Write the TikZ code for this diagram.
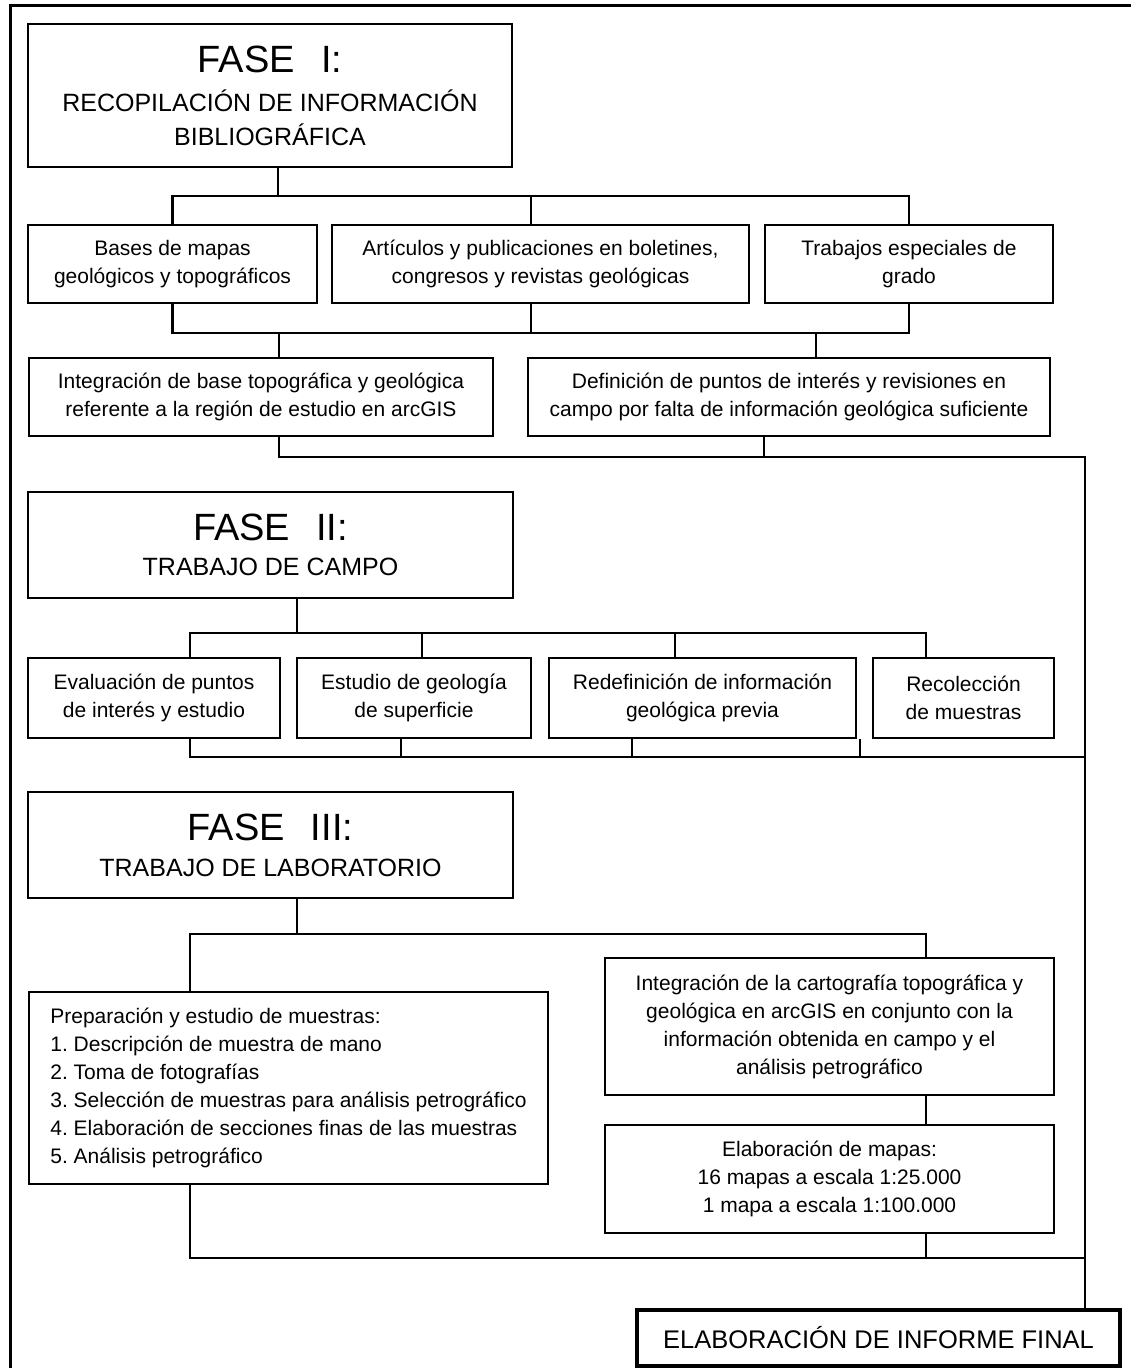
\documentclass[tikz,border=0pt]{standalone}
\usepackage{fontspec}
\setmainfont{Liberation Sans}
\frenchspacing

\newcommand\fasetitle[1]{{\fontsize{19}{19}\selectfont FASE\hspace{13pt}#1:}}

\begin{document}
\begin{tikzpicture}[
  x=0.5pt, y=-0.5pt,
  box/.style={
    draw,
    line width=1.4pt,
    inner sep=0pt,
    align=center,
    font=\fontsize{10.5}{14}\selectfont
  },
  phase/.style={box, minimum width=242.5pt, font=\fontsize{12.5}{16.5}\selectfont},
  link/.style={draw, line width=1.1pt},
  frame/.style={line width=1.5pt}
]
  \useasboundingbox (0,0) rectangle (1131,1368);
  \draw[frame] (10,1368) -- (10,6) -- (1131,6);

  % Phase I and its sources
  \node[phase, minimum width=242pt, minimum height=71.5pt] (F1) at (270,95.5)
    {\fasetitle{I}\\[3pt]RECOPILACIÓN DE INFORMACIÓN\\[0.5pt]BIBLIOGRÁFICA};

  \node[box, minimum width=144.5pt, minimum height=39pt] (A) at (172.5,264)
    {Bases de mapas\\geológicos y topográficos};
  \node[box, minimum width=208.5pt, minimum height=39pt] (B) at (540.5,264)
    {Artículos y publicaciones en boletines,\\congresos y revistas geológicas};
  \node[box, minimum width=144pt, minimum height=39pt] (C) at (909,264)
    {Trabajos especiales de\\grado};

  \node[box, minimum width=232pt, minimum height=39pt] (D) at (261,397)
    {Integración de base topográfica y geológica\\referente a la región de estudio en arcGIS};
  \node[box, minimum width=261pt, minimum height=39pt] (E) at (789,397)
    {Definición de puntos de interés y revisiones en\\campo por falta de información geológica suficiente};

  % Phase II and field work
  \node[phase, minimum height=53pt] (F2) at (270.5,545)
    {\fasetitle{II}\\[1pt]TRABAJO DE CAMPO};

  \node[box, minimum width=126pt, minimum height=40pt] (F) at (154,698)
    {Evaluación de puntos\\de interés y estudio};
  \node[box, minimum width=117pt, minimum height=40pt] (G) at (414,698)
    {Estudio de geología\\de superficie};
  \node[box, minimum width=153.5pt, minimum height=40pt] (H) at (702.5,698)
    {Redefinición de información\\geológica previa};
  \node[box, minimum width=90.5pt, minimum height=40pt] (I) at (963.5,698)
    {Recolección\\de muestras};

  % Phase III and laboratory work
  \node[phase, minimum height=53pt] (F3) at (270.5,845)
    {\fasetitle{III}\\[1.5pt]TRABAJO DE LABORATORIO};

  \node[box, align=left, minimum width=259.5pt, minimum height=96pt] (J) at (288.5,1088)
    {Preparación y estudio de muestras:\\
     1. Descripción de muestra de mano\\
     2. Toma de fotografías\\
     3. Selección de muestras para análisis petrográfico\\
     4. Elaboración de secciones finas de las muestras\\
     5. Análisis petrográfico};
  \node[box, minimum width=224.5pt, minimum height=68.5pt] (K) at (829.5,1026.5)
    {Integración de la cartografía topográfica y\\geológica en arcGIS en conjunto con la\\información obtenida en campo y el\\análisis petrográfico};
  \node[box, minimum width=224.5pt, minimum height=54pt] (L) at (829.5,1179)
    {Elaboración de mapas:\\16 mapas a escala 1:25.000\\1 mapa a escala 1:100.000};

  % Final report
  \node[box, line width=2pt, minimum width=241.5pt, minimum height=28pt,
    font=\fontsize{12.75}{14}\selectfont] (FIN) at (878.5,1338)
    {ELABORACIÓN DE INFORME FINAL};

  % Bus under phase I
  \coordinate (jF1) at (278,196);
  \coordinate (jA) at (172.5,196);
  \coordinate (jB) at (531,196);
  \coordinate (jC) at (909,196);
  \draw[link] (jF1 |- F1.south) -- (jF1);
  \draw[link] (A.north) -- (jA) -- (jC) -- (C.north);
  \draw[link] (jB) -- (jB |- B.north);

  % Sources into integration and definition
  \coordinate (kA) at (172.5,333);
  \coordinate (kB) at (531,333);
  \coordinate (kC) at (909,333);
  \coordinate (kD) at (279,333);
  \coordinate (kE) at (816,333);
  \draw[link] (A.south) -- (kA) -- (kC) -- (C.south);
  \draw[link] (kB |- B.south) -- (kB);
  \draw[link] (kD) -- (kD |- D.north);
  \draw[link] (kE) -- (kE |- E.north);

  % Trunk on the right down to the final report
  \coordinate (mD) at (279,457);
  \coordinate (mE) at (764,457);
  \coordinate (mR) at (1085,457);
  \draw[link] (mD |- D.south) -- (mD) -- (mR) -- (mR |- FIN.north);
  \draw[link] (mE |- E.south) -- (mE);

  % Bus under phase II
  \coordinate (nF2) at (297,633);
  \coordinate (nF) at (190,633);
  \coordinate (nG) at (422,633);
  \coordinate (nH) at (675,633);
  \coordinate (nI) at (926,633);
  \draw[link] (nF2 |- F2.south) -- (nF2);
  \draw[link] (nF |- F.north) -- (nF) -- (nI) -- (nI |- I.north);
  \draw[link] (nG) -- (nG |- G.north);
  \draw[link] (nH) -- (nH |- H.north);

  % Field work into the trunk
  \coordinate (pF) at (190,757);
  \coordinate (pG) at (401,757);
  \coordinate (pH) at (632,757);
  \coordinate (pI) at (860,757);
  \coordinate (pR) at (1085,757);
  \draw[link] (pF |- F.south) -- (pF) -- (pR);
  \draw[link] (pG |- G.south) -- (pG);
  \draw[link] (pH |- H.south) -- (pH);
  \draw[link] (pI |- I.south) -- (pI);

  % Bus under phase III
  \coordinate (qF3) at (297,934);
  \coordinate (qJ) at (190,934);
  \coordinate (qK) at (926,934);
  \draw[link] (qF3 |- F3.south) -- (qF3);
  \draw[link] (qJ |- J.north) -- (qJ) -- (qK) -- (qK |- K.north);
  \draw[link] (qK |- K.south) -- (qK |- L.north);

  % Laboratory work into the trunk
  \coordinate (rJ) at (190,1258);
  \coordinate (rL) at (926,1258);
  \coordinate (rR) at (1085,1258);
  \draw[link] (rJ |- J.south) -- (rJ) -- (rR);
  \draw[link] (rL |- L.south) -- (rL);

\end{tikzpicture}
\end{document}
